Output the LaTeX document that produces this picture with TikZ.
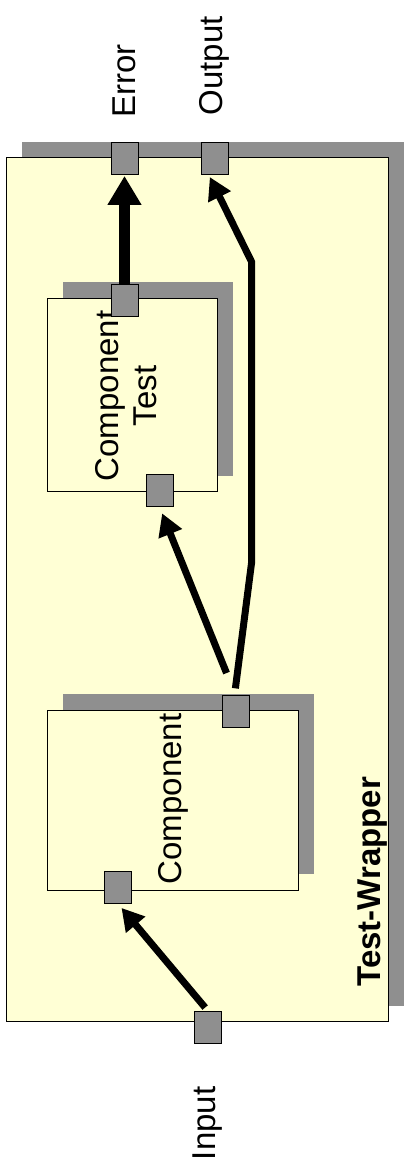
\documentclass[tikz,border=0pt]{standalone}
\usepackage{fontspec}
\setmainfont{Liberation Sans}
\usetikzlibrary{positioning}
\usetikzlibrary{arrows.meta}
\usetikzlibrary{shadows}

\definecolor{boxfill}{RGB}{255,255,213}
\definecolor{portgray}{RGB}{143,143,143}

\pgfdeclarelayer{boxes}
\pgfdeclarelayer{links}
\pgfsetlayers{boxes,links,main}

\begin{document}
\begin{tikzpicture}[
		x=1pt, y=-1pt,
		box/.style={draw, rectangle, fill=boxfill, line width=1pt, inner sep=0pt,
			drop shadow={shadow xshift=15.5pt, shadow yshift=16pt, fill=portgray, opacity=1}},
		port/.style={draw, rectangle, fill=portgray, line width=0.8pt,
			minimum width=27pt, minimum height=32pt, inner sep=0pt},
		lbl/.style={rotate=90, inner sep=0pt, font=\fontsize{33}{38}\selectfont},
		title/.style={lbl, font=\fontsize{33}{38}\selectfont\bfseries},
		flow/.style={-{Triangle[length=22pt,width=24pt]}, line width=7pt},
		bigflow/.style={-{Triangle[length=29pt,width=32pt]}, line width=11pt},
		node distance=30pt
		]
		\useasboundingbox (0,0) rectangle (405,1166);
		
		% Kästen mit Schatten
		\begin{pgfonlayer}{boxes}
			\node[box, minimum width=382pt, minimum height=864pt] (wrapper) at (197,589.7) {};
			\node[box, minimum width=169.7pt, minimum height=193.4pt] (ctest) at (132.8,395) {};
			\node[box, minimum width=250.6pt, minimum height=180pt] (comp) at (173,800) {};
		\end{pgfonlayer}
		
		% Beschriftungen
		\node[lbl, align=center] (cttxt) at (126,396) {Component\\Test};
		\node[lbl] (comptxt) at (173,799) {Component};
		\node[title, anchor=base west] (wraptxt) at (380,986.7) {Test-Wrapper};
		
		% Ports
		\node[port] (errport) at (124.5,158) {};
		\node[port] (outport) at (214.5,158) {};
		\node[port] (ctout) at (124.5,300) {};
		\node[port] (ctin) at (159.5,490.5) {};
		\node[port] (cout) at (235.5,711.7) {};
		\node[port] (cin) at (118.3,887.7) {};
		\node[port] (inport) at (207.7,1027) {};
		
		% Port-Namen
		\node[lbl, above=30pt of errport, anchor=west, xshift=-6pt] (errlbl) {Error};
		\node[lbl, above=30pt of outport, anchor=west, xshift=-4pt] (outlbl) {Output};
		\node[lbl, below=40pt of inport, anchor=east, xshift=-3pt] (inlbl) {Input};
		
		% Verbindungen
		\coordinate (bendlow) at (251.7,561.7);
		\coordinate (bendhigh) at (251.7,262);
		\begin{pgfonlayer}{links}
			\draw[bigflow, shorten >=1.5pt] (ctout.north) -- (errport.south);
			\draw[flow, shorten <=24pt, shorten >=7pt] (cout.north) -- (ctin.south);
			\draw[flow, shorten <=7pt, shorten >=3pt] ([xshift=-1pt]cout.north) -- (bendlow) -- (bendhigh) -- ([xshift=-6pt]outport.south);
			\draw[flow, shorten <=4pt, shorten >=5pt] (inport.north) -- (cin.south);
		\end{pgfonlayer}
		
	\end{tikzpicture}
\end{document}
